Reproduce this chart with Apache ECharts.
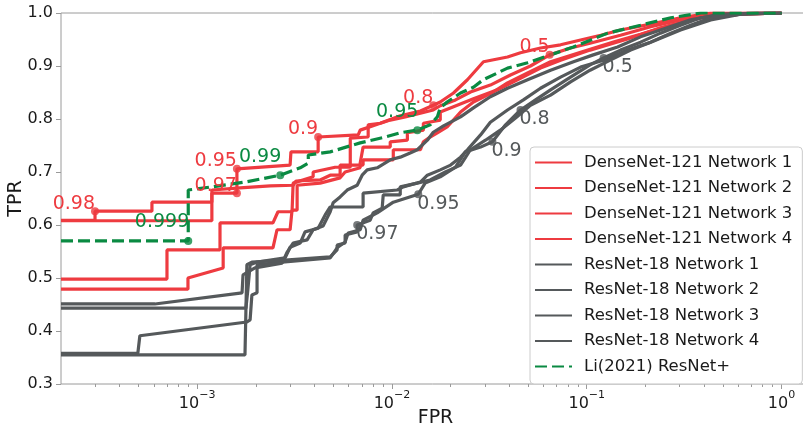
<!DOCTYPE html>
<html>
<head>
<meta charset="utf-8">
<title>ROC curves</title>
<script src="https://cdn.jsdelivr.net/npm/echarts@6/dist/echarts.min.js"></script>
<style>
    html, body { margin: 0; padding: 0; background: #ffffff; }
    #main { width: 803px; height: 431px; }
</style>
</head>
<body>
<div id="main"></div>
<script>
    // 曲线数据 [FPR, TPR]
    var dense1 = [[2.0e-4,0.609],[2.99e-4,0.609],[2.99e-4,0.626],[5.86e-4,0.626],[5.86e-4,0.643],[1.19e-3,0.643],[1.19e-3,0.660],[1.60e-3,0.660],[1.60e-3,0.706],[3.0e-3,0.713],[3.03e-3,0.738],[4.18e-3,0.738],[4.18e-3,0.766],[6.71e-3,0.770],[6.87e-3,0.779],[8.71e-3,0.792],[0.01103,0.806],[0.0140,0.815],[0.0163,0.826],[0.0177,0.832],[0.0207,0.849],[0.0244,0.874],[0.0295,0.908],[0.0392,0.917],[0.0457,0.925],[0.0579,0.934],[0.0734,0.940],[0.0930,0.949],[0.118,0.958],[0.149,0.968],[0.213,0.979],[0.303,0.991],[0.433,1.0],[1.0,1.0]];
    var dense2 = [[2.0e-4,0.498],[7.0e-4,0.498],[7.0e-4,0.553],[1.31e-3,0.553],[1.31e-3,0.604],[2.45e-3,0.604],[2.60e-3,0.625],[3.07e-3,0.625],[3.11e-3,0.679],[3.94e-3,0.691],[3.94e-3,0.700],[5.11e-3,0.709],[6.11e-3,0.709],[6.11e-3,0.764],[7.55e-3,0.766],[7.55e-3,0.789],[8.71e-3,0.792],[9.80e-3,0.798],[0.0117,0.804],[0.0140,0.811],[0.0163,0.817],[0.0177,0.825],[0.0212,0.836],[0.0253,0.851],[0.0320,0.864],[0.0406,0.883],[0.0514,0.900],[0.0645,0.921],[0.0826,0.934],[0.104,0.943],[0.149,0.958],[0.213,0.974],[0.303,0.987],[0.488,0.998],[0.782,1.0],[1.0,1.0]];
    var dense3 = [[2.0e-4,0.479],[8.97e-4,0.479],[8.97e-4,0.500],[1.36e-3,0.519],[1.36e-3,0.557],[2.45e-3,0.557],[2.57e-3,0.591],[3.0e-3,0.591],[3.07e-3,0.628],[3.26e-3,0.628],[3.26e-3,0.675],[4.28e-3,0.679],[5.42e-3,0.689],[5.75e-3,0.700],[6.87e-3,0.708],[6.87e-3,0.717],[7.11e-3,0.747],[9.80e-3,0.747],[9.80e-3,0.757],[0.0120,0.760],[0.0120,0.774],[0.0145,0.779],[0.0145,0.792],[0.0177,0.798],[0.0177,0.813],[0.0207,0.823],[0.0262,0.838],[0.0348,0.855],[0.0441,0.874],[0.0579,0.896],[0.0734,0.911],[0.104,0.930],[0.162,0.951],[0.239,0.972],[0.385,0.991],[0.618,0.998],[1.0,1.0]];
    var dense4 = [[2.0e-4,0.608],[1.19e-3,0.608],[1.19e-3,0.666],[1.66e-3,0.670],[2.37e-3,0.674],[3.11e-3,0.675],[3.22e-3,0.683],[4.28e-3,0.685],[4.82e-3,0.694],[5.42e-3,0.694],[5.42e-3,0.713],[7.11e-3,0.713],[7.11e-3,0.723],[0.01016,0.723],[0.01016,0.742],[0.0140,0.742],[0.0145,0.757],[0.0157,0.766],[0.0171,0.774],[0.0192,0.785],[0.0225,0.813],[0.0262,0.832],[0.0332,0.851],[0.0392,0.868],[0.0497,0.887],[0.0652,0.908],[0.093,0.926],[0.137,0.945],[0.189,0.960],[0.270,0.977],[0.385,0.991],[0.618,0.998],[1.0,1.0]];
    var resnet1 = [[2.0e-4,0.451],[6.07e-4,0.451],[1.70e-3,0.472],[1.72e-3,0.506],[1.98e-3,0.519],[2.73e-3,0.528],[2.90e-3,0.549],[3.11e-3,0.566],[3.67e-3,0.572],[3.94e-3,0.591],[4.43e-3,0.598],[4.82e-3,0.625],[4.99e-3,0.642],[5.42e-3,0.653],[5.89e-3,0.666],[6.63e-3,0.675],[7.03e-3,0.694],[7.46e-3,0.704],[8.40e-3,0.708],[9.80e-3,0.723],[0.01103,0.728],[0.0124,0.736],[0.0135,0.742],[0.0152,0.760],[0.0163,0.775],[0.0184,0.787],[0.0225,0.804],[0.0262,0.821],[0.0320,0.842],[0.0392,0.858],[0.0497,0.874],[0.0652,0.892],[0.0855,0.908],[0.108,0.921],[0.144,0.936],[0.189,0.955],[0.239,0.968],[0.341,0.987],[0.488,0.998],[0.782,1.0],[1.0,1.0]];
    var resnet2 = [[2.0e-4,0.443],[1.78e-3,0.443],[1.82e-3,0.477],[1.87e-3,0.525],[2.03e-3,0.530],[2.83e-3,0.538],[3.0e-3,0.558],[3.38e-3,0.566],[3.58e-3,0.587],[4.18e-3,0.594],[4.54e-3,0.619],[4.82e-3,0.634],[7.11e-3,0.634],[7.11e-3,0.660],[0.01065,0.666],[0.01143,0.672],[0.0140,0.681],[0.0152,0.694],[0.0177,0.704],[0.0200,0.713],[0.0225,0.728],[0.0244,0.742],[0.0285,0.770],[0.0320,0.794],[0.0392,0.817],[0.0473,0.836],[0.0579,0.858],[0.0734,0.879],[0.0930,0.898],[0.122,0.911],[0.162,0.930],[0.213,0.945],[0.303,0.968],[0.433,0.987],[0.618,0.998],[1.0,1.0]];
    var resnet3 = [[2.0e-4,0.358],[4.96e-4,0.358],[5.08e-4,0.391],[1.80e-3,0.417],[1.87e-3,0.421],[1.91e-3,0.468],[2.03e-3,0.472],[2.03e-3,0.525],[2.73e-3,0.530],[4.82e-3,0.538],[5.23e-3,0.557],[5.75e-3,0.568],[5.96e-3,0.585],[6.87e-3,0.591],[7.11e-3,0.609],[8.40e-3,0.623],[0.01016,0.643],[0.01365,0.658],[0.0148,0.679],[0.0177,0.691],[0.0212,0.709],[0.0238,0.738],[0.0285,0.747],[0.0328,0.757],[0.0383,0.789],[0.0457,0.817],[0.0546,0.836],[0.0652,0.855],[0.0826,0.879],[0.104,0.902],[0.122,0.915],[0.149,0.930],[0.189,0.945],[0.239,0.962],[0.303,0.977],[0.385,0.991],[0.548,0.998],[0.782,1.0],[1.0,1.0]];
    var resnet4 = [[2.0e-4,0.355],[1.76e-3,0.355],[1.80e-3,0.525],[1.91e-3,0.530],[2.83e-3,0.534],[4.82e-3,0.540],[5.23e-3,0.553],[5.23e-3,0.562],[5.75e-3,0.566],[5.75e-3,0.581],[6.63e-3,0.587],[6.63e-3,0.600],[7.73e-3,0.609],[8.01e-3,0.623],[8.91e-3,0.632],[9.02e-3,0.657],[0.01103,0.657],[0.01103,0.672],[0.0135,0.679],[0.0157,0.685],[0.0188,0.700],[0.0225,0.713],[0.0253,0.742],[0.0302,0.760],[0.0360,0.779],[0.0431,0.802],[0.0514,0.826],[0.0652,0.845],[0.0826,0.870],[0.104,0.892],[0.132,0.911],[0.168,0.930],[0.213,0.945],[0.270,0.962],[0.341,0.977],[0.433,0.991],[0.618,0.998],[1.0,1.0]];
    var li2021 = [[2.0e-4,0.570],[9.0e-4,0.570],[9.0e-4,0.666],[1.19e-3,0.672],[1.76e-3,0.681],[2.67e-3,0.694],[3.38e-3,0.708],[3.72e-3,0.717],[3.72e-3,0.732],[4.82e-3,0.738],[6.87e-3,0.755],[9.24e-3,0.766],[0.01103,0.774],[0.0135,0.779],[0.0157,0.789],[0.0171,0.804],[0.0177,0.821],[0.0192,0.832],[0.0225,0.849],[0.0262,0.860],[0.0294,0.874],[0.0392,0.896],[0.0497,0.906],[0.0652,0.921],[0.0855,0.936],[0.128,0.962],[0.189,0.977],[0.270,0.991],[0.385,1.0],[1.0,1.0]];

    // 阈值标注 [文字, FPR, TPR]
    var denseThresholds = [['0.98',2.99e-4,0.626],['0.97',1.60e-3,0.660],['0.95',1.60e-3,0.706],['0.9',4.18e-3,0.766],['0.8',0.0163,0.826],['0.5',0.0645,0.921]];
    var resnetThresholds = [['0.97',6.63e-3,0.600],['0.95',0.01365,0.658],['0.9',0.0328,0.757],['0.8',0.0457,0.817],['0.5',0.122,0.915]];
    var liThresholds = [['0.999',9.0e-4,0.570],['0.99',2.67e-3,0.694],['0.95',0.0135,0.779]];

    var seriesNames = ['DenseNet-121 Network 1','DenseNet-121 Network 2','DenseNet-121 Network 3','DenseNet-121 Network 4','ResNet-18 Network 1','ResNet-18 Network 2','ResNet-18 Network 3','ResNet-18 Network 4','Li(2021) ResNet+'];
    var xTicks = [0.001, 0.01, 0.1, 1];
    var xMinorTicks = [3e-4,4e-4,5e-4,6e-4,7e-4,8e-4,9e-4,2e-3,3e-3,4e-3,5e-3,6e-3,7e-3,8e-3,9e-3,2e-2,3e-2,4e-2,5e-2,6e-2,7e-2,8e-2,9e-2,0.2,0.3,0.4,0.5,0.6,0.7,0.8,0.9];
    var yTicks = [0.3, 0.4, 0.5, 0.6, 0.7, 0.8, 0.9, 1.0];

    var FONT = 'DejaVu Sans';
    var RED = '#ee3b40', GRAY = '#55595b', GREEN = '#0a8a42', SPINE = '#9a9a9a';

    var curves = [dense1, dense2, dense3, dense4, resnet1, resnet2, resnet3, resnet4, li2021];
    var colors = [RED, RED, RED, RED, GRAY, GRAY, GRAY, GRAY, GREEN];

    var series = curves.map(function (d, i) {
        return {
            name: seriesNames[i],
            type: 'line',
            data: d,
            symbol: 'none',
            color: colors[i],
            lineStyle: { color: colors[i], width: 3.2, type: i === 8 ? [12, 5] : 'solid' },
            z: 2
        };
    });

    function dots(list, color, lab) {
        return {
            type: 'scatter',
            data: list.map(function (t) { return { name: t[0], value: [t[1], t[2]] }; }),
            symbolSize: 8,
            itemStyle: { color: color },
            label: Object.assign({
                show: true, formatter: '{b}', color: color, fontSize: 19, fontFamily: FONT,
                position: 'inside', textBorderWidth: 0, textBorderColor: 'transparent', opacity: 1
            }, lab),
            z: 5,
            silent: true
        };
    }
    series.push(dots(denseThresholds, RED, { align: 'right', verticalAlign: 'bottom', offset: [0, 2] }));
    series.push(dots(resnetThresholds, GRAY, { align: 'left', verticalAlign: 'top', offset: [-1, 0] }));
    series.push(dots(liThresholds, GREEN, { align: 'right', verticalAlign: 'bottom', offset: [1, -9] }));

    var myChart = echarts.init(document.getElementById('main'), null, { renderer: 'canvas' });

    var option = {
        animation: false,
        backgroundColor: '#ffffff',
        grid: {
            left: 61, top: 13, width: 749, height: 371, outerBoundsMode: 'none',
            show: true, borderColor: SPINE, borderWidth: 1
        },
        legend: {
            data: seriesNames,
            orient: 'vertical',
            left: 530, top: 147,
            itemWidth: 37, itemHeight: 14, itemGap: 8.5,
            padding: [7, 10, 9, 4],
            backgroundColor: 'rgba(255,255,255,0.8)',
            borderColor: '#cccccc', borderWidth: 1, borderRadius: 4,
            itemStyle: { opacity: 0 },
            textStyle: { fontSize: 16.5, color: '#1a1a1a', fontFamily: FONT, padding: [0, 0, 0, 7] }
        },
        xAxis: [{
            type: 'log', logBase: 10, min: 2e-4, max: 1.4,
            axisLine: { show: false }, splitLine: { show: false },
            axisTick: { show: true, length: 5, customValues: xTicks, lineStyle: { color: SPINE } },
            axisLabel: {
                customValues: xTicks, margin: 6,
                formatter: function (v) {
                    var e = Math.round(Math.log10(v));
                    return '{b|10}{s|' + (e < 0 ? '\u2212' + (-e) : e) + '}';
                },
                rich: {
                    b: { fontSize: 16, fontFamily: FONT, color: '#1a1a1a', lineHeight: 22, verticalAlign: 'bottom' },
                    s: { fontSize: 11, fontFamily: FONT, color: '#1a1a1a', lineHeight: 12, verticalAlign: 'top' }
                }
            },
            name: 'FPR', nameLocation: 'middle', nameGap: 25, nameMoveOverlap: false,
            nameTextStyle: { fontSize: 19, color: '#1a1a1a', fontFamily: FONT }
        }, {
            type: 'log', logBase: 10, min: 2e-4, max: 1.4, position: 'bottom', gridIndex: 0,
            axisLine: { show: false }, splitLine: { show: false }, axisLabel: { show: false },
            axisTick: { show: true, length: 3, customValues: xMinorTicks, lineStyle: { color: SPINE } }
        }],
        yAxis: {
            type: 'value', min: 0.3, max: 1.0, interval: 0.1,
            axisLine: { show: false }, splitLine: { show: false },
            axisTick: { show: true, length: 5, lineStyle: { color: SPINE } },
            axisLabel: {
                customValues: yTicks,
                formatter: function (v) { return v.toFixed(1); },
                fontSize: 16, color: '#1a1a1a', fontFamily: FONT, margin: 8
            },
            name: 'TPR', nameLocation: 'middle', nameGap: 35, nameMoveOverlap: false,
            nameTextStyle: { fontSize: 19, color: '#1a1a1a', fontFamily: FONT }
        },
        series: series
    };

    myChart.setOption(option);
</script>
</body>
</html>
